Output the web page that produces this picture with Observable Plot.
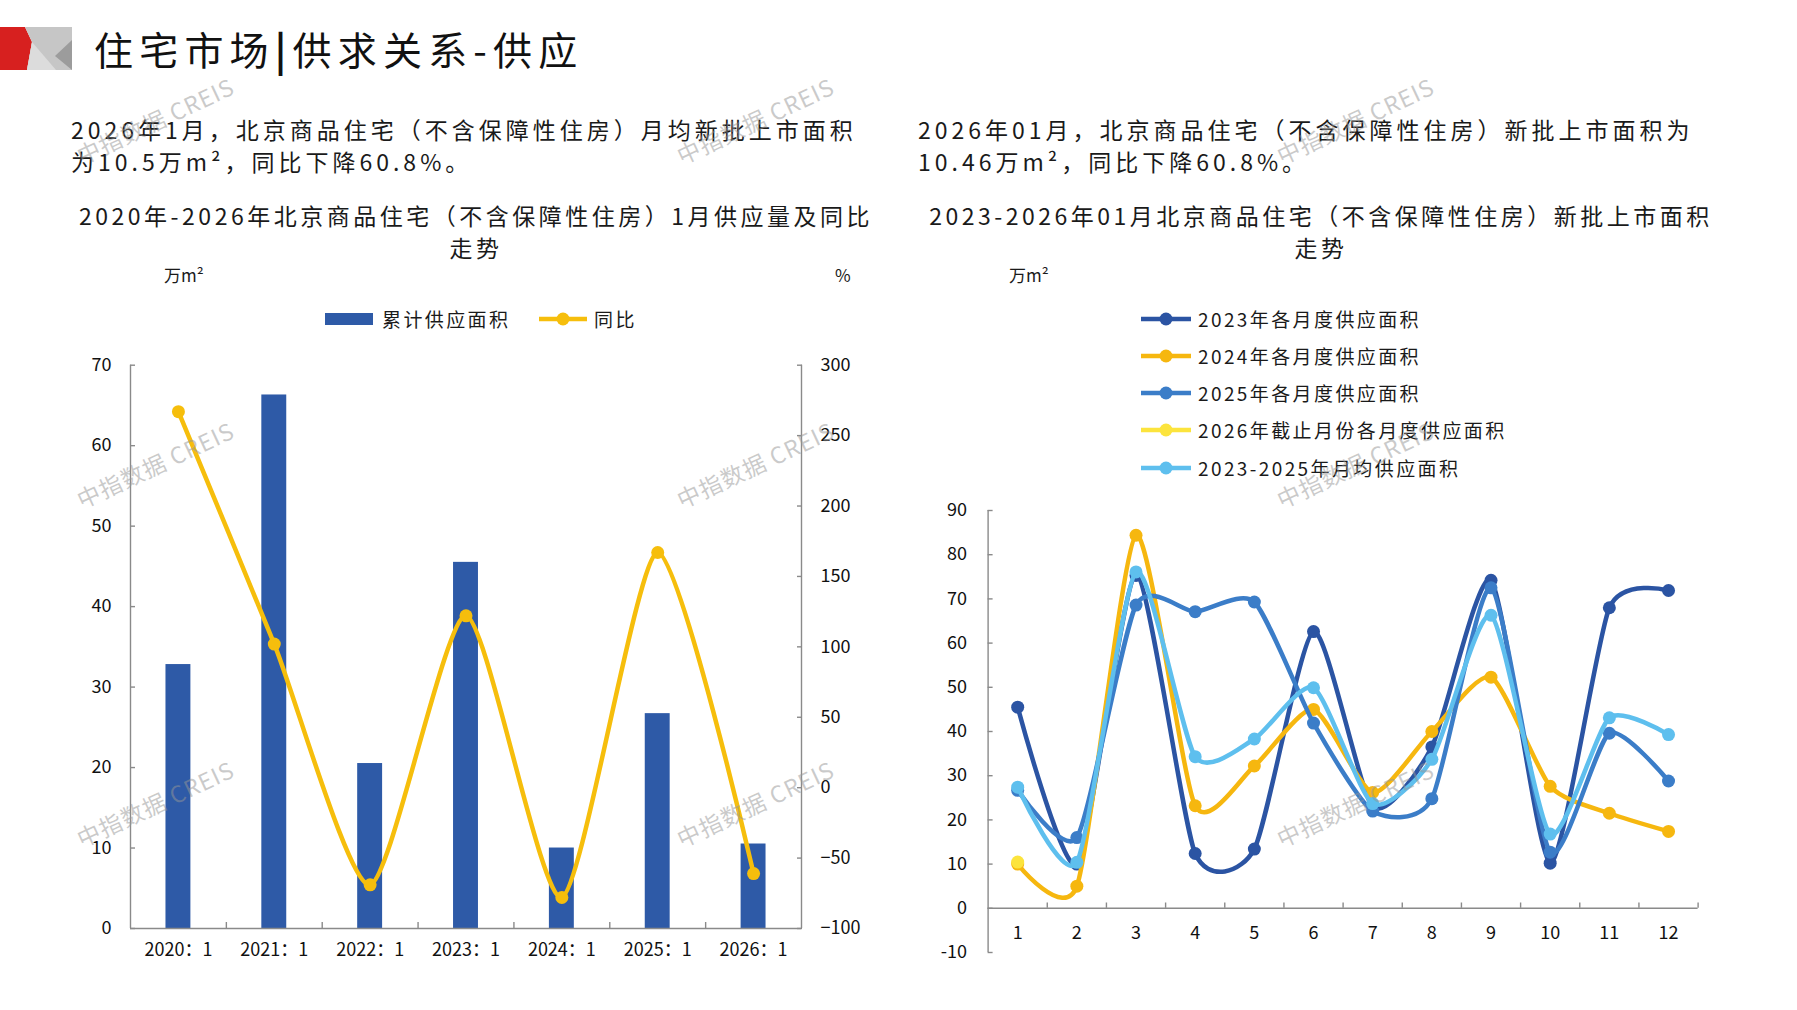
<!DOCTYPE html>
<html>
<head>
<meta charset="utf-8">
<script src="https://cdn.jsdelivr.net/npm/d3@7"></script>
<script src="https://cdn.jsdelivr.net/npm/@observablehq/plot@0.6"></script>
<style>
  html, body { margin: 0; padding: 0; background: #fff; }
  #page { position: relative; width: 1797px; height: 1010px; overflow: hidden;
          font-family: "Noto Sans CJK SC", "Noto Sans", sans-serif; color: #1a1a1a; }
  .abs { position: absolute; white-space: nowrap; }
  .para { font-size: 23px; line-height: 23px; letter-spacing: 4px; }
  .ctitle { font-size: 23px; line-height: 23px; letter-spacing: 3.5px; text-align: center; width: 900px; }
  .unit { font-size: 17px; line-height: 17px; }
  .leg { font-size: 19px; line-height: 19px; letter-spacing: 2.4px; display: flex; align-items: center; }
  .wm { position: absolute; font-size: 23px; color: rgba(150,150,150,0.5); transform: translate(-50%,-50%) rotate(-25deg);
        white-space: nowrap; font-family: "Noto Sans CJK SC", sans-serif; pointer-events: none; letter-spacing: 1px; }
  svg { overflow: visible; }
</style>
</head>
<body>
<div id="page">
  <svg class="abs" style="left:0;top:0" width="80" height="80">
    <polygon points="0,27 25,27 32,42 27,70 0,70" fill="#D7201F"/>
    <polygon points="25,27 72,27 72,70 27,70 32,42" fill="#C6C6C6"/>
    <polygon points="32,42 27,70 56,70" fill="#DCDCDC"/>
    <polygon points="55,56 72,40 72,70" fill="#9C9C9C"/>
  </svg>
  <div class="abs" style="left:94px;top:28px;font-size:39px;line-height:40px;letter-spacing:6.2px;color:#111">住宅市场<span style="font-weight:700">|</span>供求关系-供应</div>

  <div class="abs para" style="left:71px;top:118px">2026年1月，北京商品住宅（不含保障性住房）月均新批上市面积</div>
  <div class="abs para" style="left:71px;top:150px">为10.5万m²，同比下降60.8%。</div>
  <div class="abs para" style="left:918px;top:118px">2026年01月，北京商品住宅（不含保障性住房）新批上市面积为</div>
  <div class="abs para" style="left:918px;top:150px">10.46万m²，同比下降60.8%。</div>

  <div class="abs ctitle" style="left:26px;top:204px">2020年-2026年北京商品住宅（不含保障性住房）1月供应量及同比</div>
  <div class="abs ctitle" style="left:26px;top:236px">走势</div>
  <div class="abs ctitle" style="left:871px;top:204px">2023-2026年01月北京商品住宅（不含保障性住房）新批上市面积</div>
  <div class="abs ctitle" style="left:871px;top:236px">走势</div>

  <div class="abs unit" style="left:164px;top:266px">万m²</div>
  <div class="abs unit" style="left:835px;top:266px">%</div>
  <div class="abs unit" style="left:1009px;top:266px">万m²</div>

  <div id="legL"></div>
  <div id="legR"></div>
  <div id="chartL" class="abs" style="left:0;top:330px"></div>
  <div id="chartR" class="abs" style="left:900px;top:470px"></div>
  <div id="wms"></div>
</div>

<script>
// ---------- data ----------
const janCategories = ["2020：1", "2021：1", "2022：1", "2023：1", "2024：1", "2025：1", "2026：1"];
const janSupply = [32.8, 66.3, 20.5, 45.5, 10.0, 26.7, 10.5];      // 万m²
const janYoY = [267, 102, -69, 122, -78, 167, -61];                  // %
const leftTicks = [0, 10, 20, 30, 40, 50, 60, 70];
const rightTicks = [-100, -50, 0, 50, 100, 150, 200, 250, 300];
const legendLeft = ["累计供应面积", "同比"];

const monthLabels = ["1","2","3","4","5","6","7","8","9","10","11","12"];
const supply2023 = [45.5, 10.0, 75.3, 12.4, 13.4, 62.6, 23.0, 36.5, 74.2, 10.2, 68.0, 71.9];
const supply2024 = [10.0, 5.0, 84.4, 23.2, 32.2, 45.0, 26.2, 40.0, 52.3, 27.6, 21.5, 17.4];
const supply2025 = [26.7, 16.0, 68.6, 67.1, 69.3, 41.9, 22.0, 24.8, 72.5, 12.7, 39.6, 28.8];
const supply2026 = [10.46];
const supplyAvg = [27.4, 10.4, 76.1, 34.3, 38.3, 49.9, 23.7, 33.7, 66.3, 16.8, 43.1, 39.3];
const rightYTicks = [-10, 0, 10, 20, 30, 40, 50, 60, 70, 80, 90];
const seriesNames = ["2023年各月度供应面积", "2024年各月度供应面积", "2025年各月度供应面积", "2026年截止月份各月度供应面积", "2023-2025年月均供应面积"];
const seriesColors = ["#2B54A3", "#F6B70F", "#3B7DC8", "#FCE43D", "#5EBFEE"];
const seriesValues = [supply2023, supply2024, supply2025, supply2026, supplyAvg];

const watermark = "中指数据 CREIS";

// ---------- styles ----------
const BAR = "#2E5AA7", GOLD = "#F6BE0C", AXIS = "#8a8a8a", TXT = "#111";
const TICKFONT = "'Liberation Sans Narrow', 'Noto Sans CJK SC', sans-serif";
const CURVE = "cardinal", TENSION = 0.35;

// ---------- left chart ----------
const yoyToLeft = d3.scaleLinear().domain([rightTicks[0], rightTicks[rightTicks.length - 1]])
                                  .range([leftTicks[0], leftTicks[leftTicks.length - 1]]);
const janRows = janCategories.map((c, i) => ({i, c, v: janSupply[i], yoy: janYoY[i]}));
const nL = janCategories.length;
const boundsL = d3.range(1, nL).map(i => i - 0.5);

const left = Plot.plot({
  width: 900, height: 650,
  marginTop: 34.7, marginBottom: 52, marginLeft: 130, marginRight: 99,
  x: {type: "linear", domain: [-0.5, nL - 0.5], axis: null},
  y: {domain: [leftTicks[0], leftTicks[leftTicks.length - 1]], axis: null},
  style: {fontFamily: TICKFONT, fontSize: "18px", color: TXT, background: "transparent", overflow: "visible"},
  marks: [
    Plot.rectY(janRows, {x1: d => d.i - 0.13, x2: d => d.i + 0.13, y1: 0, y2: "v", fill: BAR}),
    Plot.ruleX([-0.5, nL - 0.5], {stroke: AXIS, strokeWidth: 1.4}),
    Plot.ruleY([0], {stroke: AXIS, strokeWidth: 1.4}),
    Plot.axisY({anchor: "left", label: null, ticks: leftTicks, tickSize: -5, tickPadding: 24, stroke: AXIS, fill: TXT, strokeWidth: 1.4}),
    Plot.axisY({anchor: "right", label: null, ticks: rightTicks.map(t => yoyToLeft(t)), tickFormat: v => String(Math.round(yoyToLeft.invert(v))).replace("-", "−"),
                tickSize: -5, tickPadding: 24, stroke: AXIS, fill: TXT, strokeWidth: 1.4}),
    Plot.axisX({label: null, ticks: janRows.map(d => d.i), tickFormat: i => janCategories[i], tickSize: 0, tickPadding: 15, fill: TXT}),
    Plot.axisX({label: null, ticks: boundsL, tickFormat: () => "", tickSize: -6, stroke: AXIS, strokeWidth: 1.4}),
    Plot.line(janRows, {x: "i", y: d => yoyToLeft(d.yoy), curve: CURVE, tension: TENSION, stroke: GOLD, strokeWidth: 4.5}),
    Plot.dot(janRows, {x: "i", y: d => yoyToLeft(d.yoy), r: 6.5, fill: GOLD, stroke: "none"})
  ]
});
document.getElementById("chartL").appendChild(left);

// ---------- right chart ----------
const monthRows = monthLabels.map((t, i) => ({m: i + 1, t, base: 0}));
const boundsR = monthLabels.map((t, i) => i + 1.5);
const seriesMarks = seriesValues.flatMap((vals, s) => {
  const rows = vals.map((v, i) => ({m: i + 1, v}));
  return [
    Plot.line(rows, {x: "m", y: "v", curve: CURVE, tension: TENSION, stroke: seriesColors[s], strokeWidth: 4.5}),
    Plot.dot(rows, {x: "m", y: "v", r: 6.5, fill: seriesColors[s], stroke: "none"})
  ];
});

const right = Plot.plot({
  width: 897, height: 520,
  marginTop: 40, marginBottom: 38, marginLeft: 87.6, marginRight: 99.4,
  x: {type: "linear", domain: [0.5, monthLabels.length + 0.5], axis: null},
  y: {domain: [rightYTicks[0], rightYTicks[rightYTicks.length - 1]], axis: null},
  style: {fontFamily: TICKFONT, fontSize: "18px", color: TXT, background: "transparent", overflow: "visible"},
  marks: [
    Plot.ruleX([0.5], {stroke: AXIS, strokeWidth: 1.4}),
    Plot.ruleY([0], {stroke: AXIS, strokeWidth: 1.4}),
    Plot.axisY({anchor: "left", label: null, ticks: rightYTicks, tickSize: -5, tickPadding: 26, stroke: AXIS, fill: TXT, strokeWidth: 1.4,
                tickFormat: v => String(v)}),
    Plot.ruleX(boundsR, {x: d => d, y1: 0, y2: 1.2, stroke: AXIS, strokeWidth: 1.4}),
    Plot.text(monthRows, {x: "m", y: "base", text: "t", dy: 25, fill: TXT}),
    ...seriesMarks
  ]
});
document.getElementById("chartR").appendChild(right);

// ---------- legends (HTML) ----------
function swatchLine(color, w) {
  return `<svg width="${w}" height="16" style="margin-right:7px"><line x1="0" y1="8" x2="${w}" y2="8" stroke="${color}" stroke-width="4.5"/><circle cx="${w/2}" cy="8" r="6.5" fill="${color}"/></svg>`;
}
const legL = document.getElementById("legL");
legL.innerHTML =
  `<div class="abs leg" style="left:325px;top:309px"><span style="display:inline-block;width:48px;height:12px;background:${BAR};margin-right:9px"></span>${legendLeft[0]}</div>` +
  `<div class="abs leg" style="left:539px;top:309px">${swatchLine(GOLD, 48)}${legendLeft[1]}</div>`;
const legR = document.getElementById("legR");
const legRowsY = [318, 355, 392, 429, 467];
legR.innerHTML = seriesNames.map((n, s) =>
  `<div class="abs leg" style="left:1141px;top:${legRowsY[s] - 9}px">${swatchLine(seriesColors[s], 50)}${n}</div>`).join("");

// ---------- watermarks ----------
const wmX = [155, 755, 1355], wmY = [120, 464, 803];
document.getElementById("wms").innerHTML = wmY.flatMap(y => wmX.map(x =>
  `<div class="wm" style="left:${x}px;top:${y}px">${watermark}</div>`)).join("");
</script>
</body>
</html>
